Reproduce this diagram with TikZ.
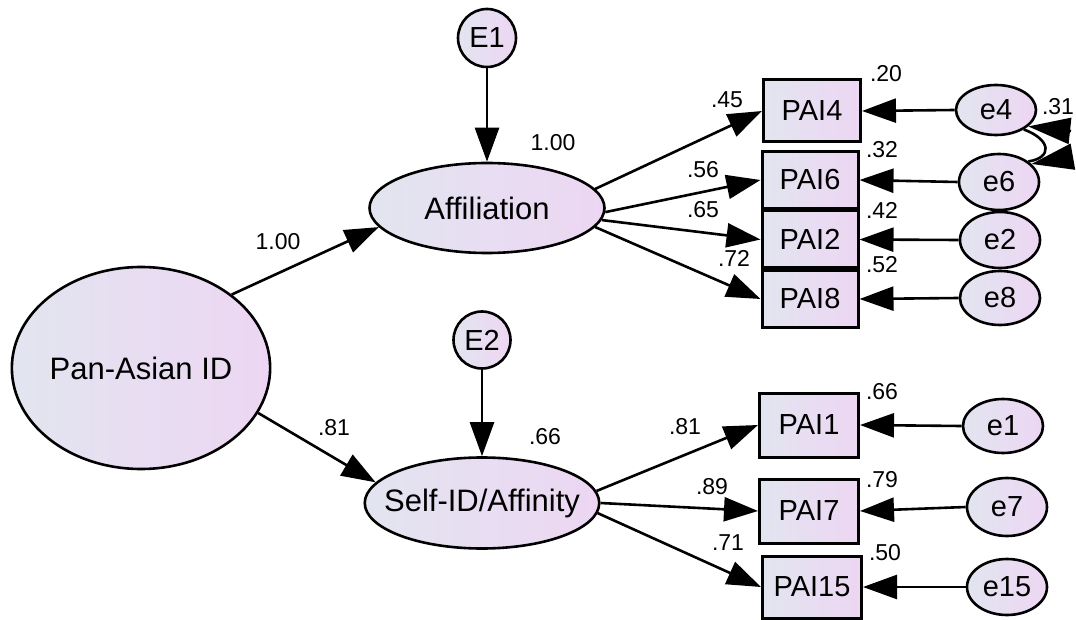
\documentclass[tikz,border=0pt]{standalone}
\usepackage{fontspec}
\setmainfont{Liberation Sans}
\usetikzlibrary{arrows.meta,shapes.geometric}

\definecolor{shadeL}{RGB}{226,229,240}
\definecolor{shadeR}{RGB}{237,214,243}

\tikzset{
  filled/.style={draw=black, line width=1.3pt, left color=shadeL, right color=shadeR, inner sep=0pt},
  latent/.style={filled, ellipse, font=\fontsize{15.5}{17}\selectfont},
  errterm/.style={filled, ellipse, font=\fontsize{14.5}{16}\selectfont},
  errc/.style={filled, circle, font=\fontsize{14.5}{16}\selectfont},
  obs/.style={filled, rectangle, line width=1.5pt, font=\fontsize{14.5}{16}\selectfont},
  arr/.style={draw, line width=1.3pt, -{Triangle[length=17pt,width=12pt]}},
  covline/.style={draw, line width=1.3pt},
  covtip/.style={draw, line width=1.3pt, -{Triangle[length=21pt,width=13pt]}},
  est/.style={font=\fontsize{11.5}{13}\selectfont, inner sep=0pt},
}

\begin{document}
\begin{tikzpicture}[x=0.5pt, y=-0.5pt]
\useasboundingbox (0,0) rectangle (1076,620);

% latent factors
\node[latent, minimum width=129pt, minimum height=101pt] (pan) at (141,368) {Pan-Asian ID};
\node[latent, minimum width=117.5pt, minimum height=45pt] (aff) at (487,208) {Affiliation};
\node[latent, inner xsep=-7.5pt, minimum width=115.5pt, minimum height=45.5pt] (self) at (482,503) {Self-ID/Affinity};

% disturbances
\node[errc, minimum size=29pt] (E1) at (487,38) {E1};
\node[errc, minimum size=28.5pt] (E2) at (482,340) {E2};

% indicators
\node[obs, minimum width=48.5pt, minimum height=31pt] (PAI4) at (812,111) {PAI4};
\node[obs, minimum width=48pt, minimum height=28.5pt] (PAI6) at (810,180) {PAI6};
\node[obs, minimum width=48pt, minimum height=28.5pt] (PAI2) at (810,239.5) {PAI2};
\node[obs, minimum width=48pt, minimum height=28.5pt] (PAI8) at (810,299) {PAI8};
\node[obs, minimum width=49.5pt, minimum height=32pt] (PAI1) at (809,425) {PAI1};
\node[obs, minimum width=49.5pt, minimum height=32pt] (PAI7) at (809,511) {PAI7};
\node[obs, minimum width=49.5pt, minimum height=31pt] (PAI15) at (812,587) {PAI15};

% measurement errors
\node[errterm, minimum width=40pt, minimum height=25pt] (e4) at (996,110) {e4};
\node[errterm, minimum width=40pt, minimum height=28pt] (e6) at (999,182) {e6};
\node[errterm, minimum width=40pt, minimum height=28pt] (e2) at (1000,240) {e2};
\node[errterm, minimum width=40pt, minimum height=27pt] (e8) at (1000,298) {e8};
\node[errterm, minimum width=40pt, minimum height=27pt] (e1) at (1003,426) {e1};
\node[errterm, minimum width=40pt, minimum height=29pt] (e7) at (1007,507) {e7};
\node[errterm, minimum width=40pt, minimum height=28pt] (e15) at (1007,587) {e15};

% structural paths
\draw[arr] (pan.39) -- (aff.190);
\draw[arr] (pan.-21) -- (self.169);
\draw[arr] (E1.south) -- (aff.north);
\draw[arr] (E2.south) -- (self.north);

% loadings
\draw[arr] (aff.10) -- (PAI4.west);
\draw[arr] (aff.-2) -- (PAI6.west);
\draw[arr] (aff.-6) -- (PAI2.west);
\draw[arr] (aff.-10) -- (PAI8.west);
\draw[arr] (self.6) -- (PAI1.west);
\draw[arr] (self.0) -- (PAI7.west);
\draw[arr] (self.-5) -- (PAI15.west);

% error terms
\draw[arr] (e4.west) -- (PAI4.east);
\draw[arr] (e6.west) -- (PAI6.east);
\draw[arr] (e2.west) -- (PAI2.east);
\draw[arr] (e8.west) -- (PAI8.east);
\draw[arr] (e1.west) -- (PAI1.east);
\draw[arr] (e7.west) -- (PAI7.east);
\draw[arr] (e15.west) -- (PAI15.east);

% error covariance: curved line with its two heads
\coordinate (cv4) at (1071,131);
\coordinate (cv6) at (1071,157);
\draw[covline] (e4.-35) .. controls (1052,140) and (1052,158) .. (e6.35);
\draw[covtip] (cv4) -- (e4.-27);
\draw[covtip] (cv6) -- (e6.29);

% estimates
\node[est] (l1) at (278,242) {1.00};
\node[est] (l2) at (334,428) {.81};
\node[est] (r1) at (553,143) {1.00};
\node[est] (r2) at (545,437) {.66};
\node[est] (l45) at (727,100) {.45};
\node[est] (l56) at (703,170) {.56};
\node[est] (l65) at (703,210) {.65};
\node[est] (l72) at (734,258) {.72};
\node[est] (r20) at (886,74) {.20};
\node[est] (r32) at (882,150) {.32};
\node[est] (r42) at (882,210) {.42};
\node[est] (r52) at (882,265) {.52};
\node[est] (c31) at (1058,107) {.31};
\node[est] (l81) at (685,427) {.81};
\node[est] (l89) at (712,487) {.89};
\node[est] (l71) at (728,543) {.71};
\node[est] (r66) at (882,392) {.66};
\node[est] (r79) at (882,480) {.79};
\node[est] (r50) at (885,553) {.50};
\end{tikzpicture}
\end{document}
